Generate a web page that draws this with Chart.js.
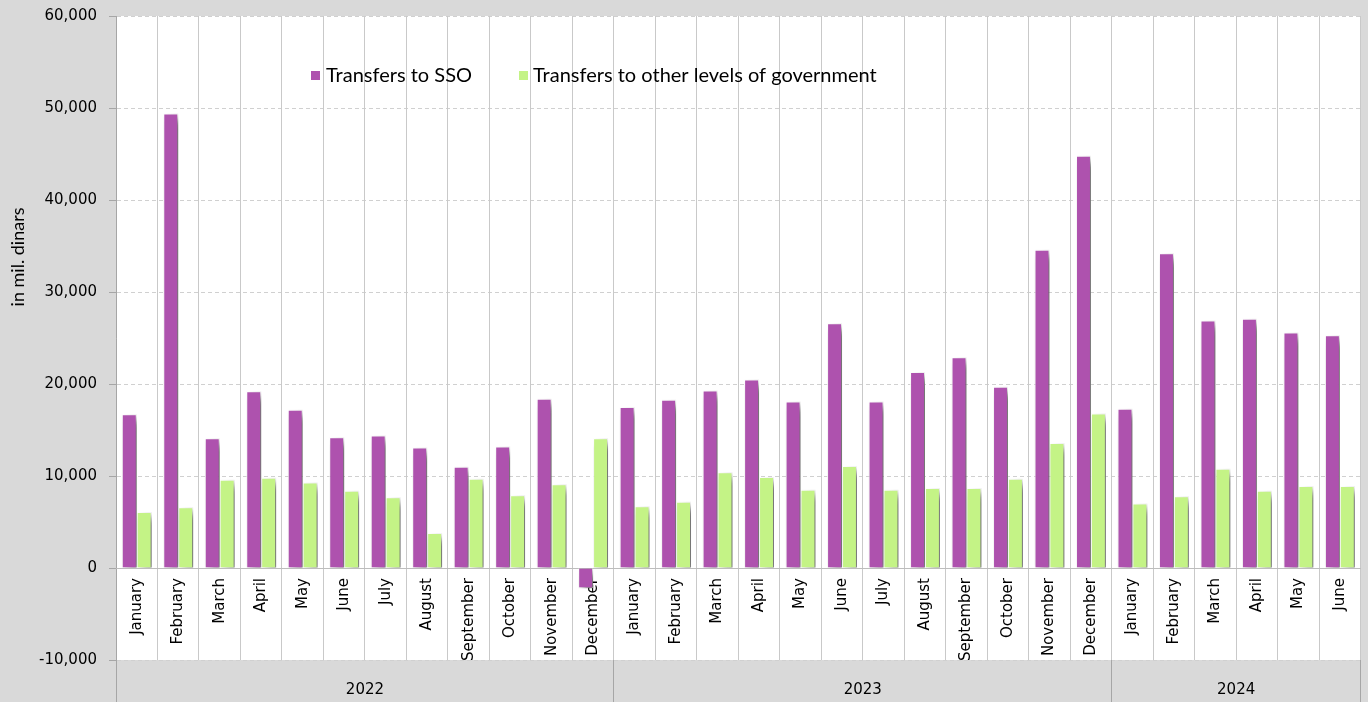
<!DOCTYPE html>
<html>
<head>
<meta charset="utf-8">
<title>Transfers</title>
<script src="https://cdn.jsdelivr.net/npm/chart.js@4.4.1/dist/chart.umd.min.js"></script>
<style>
  html, body { margin: 0; padding: 0; background: #d9d9d9; }
  #wrap { width: 1368px; height: 702px; }
</style>
</head>
<body>
<div id="wrap"><canvas id="chart" width="1368" height="702"></canvas></div>
<script>
// Monthly labels, 2022-01 .. 2024-06
const months = [
  "January", "February", "March", "April", "May", "June",
  "July", "August", "September", "October", "November", "December",
  "January", "February", "March", "April", "May", "June",
  "July", "August", "September", "October", "November", "December",
  "January", "February", "March", "April", "May", "June",
];
const years = ["2022", "2023", "2024"];
const monthsPerYear = [12, 12, 6];

// in mil. dinars
const transfersSSO = [
  16700, 49400, 14100, 19200, 17200, 14200,
  14400, 13100, 11000, 13200, 18400, -2200,
  17500, 18300, 19300, 20500, 18100, 26600,
  18100, 21300, 22900, 19700, 34600, 44800,
  17300, 34200, 26900, 27100, 25600, 25300,
];
const transfersOther = [
  6100, 6600, 9600, 9800, 9300, 8400,
  7700, 3800, 9700, 7900, 9100, 14100,
  6700, 7200, 10400, 9900, 8500, 11100,
  8500, 8700, 8700, 9700, 13600, 16800,
  7000, 7800, 10800, 8400, 8900, 8900,
];

const yMin = -10000;
const yMax = 60000;
const yStep = 10000;

const purple = "#ae52ae";
const green = "#c4f386";

// Year separators and year label positions on the lower axis
const yearEdges = [-0.5];
const yearCenters = [];
let count = 0;
monthsPerYear.forEach((n) => {
  yearCenters.push(count + n / 2 - 0.5);
  count += n;
  yearEdges.push(count - 0.5);
});

const tickFont = { family: "DejaVu Sans", size: 15 };

// White plot area on the grey background.
const plotBackground = {
  id: "plotBackground",
  beforeDraw(chart) {
    const { ctx, chartArea } = chart;
    ctx.save();
    ctx.fillStyle = "#ffffff";
    ctx.fillRect(chartArea.left, chartArea.top, chartArea.right - chartArea.left, chartArea.bottom - chartArea.top);
    ctx.restore();
  },
};

// Soft shadow behind the bars.
const barShadow = {
  id: "barShadow",
  beforeDatasetsDraw(chart) {
    const ctx = chart.ctx;
    ctx.save();
    ctx.shadowColor = "rgba(0, 0, 0, 0.62)";
    ctx.shadowBlur = 8;
    ctx.shadowOffsetX = 6;
    ctx.shadowOffsetY = 5;
  },
  afterDatasetsDraw(chart) {
    chart.ctx.restore();
  },
};

// Legend sits inside the plot, and the axis title, as in the original.
const extras = {
  id: "extras",
  afterDraw(chart) {
    const ctx = chart.ctx;
    const spots = [{ box: 311, text: 326 }, { box: 519, text: 533 }];
    ctx.save();
    ctx.font = "20px Lato";
    ctx.textBaseline = "middle";
    chart.data.datasets.forEach((ds, i) => {
      ctx.fillStyle = ds.backgroundColor;
      ctx.fillRect(spots[i].box, 71, 9, 9);
      ctx.fillStyle = "#000000";
      ctx.fillText(ds.label, spots[i].text, 76);
    });

    ctx.font = "18px Lato";
    ctx.textAlign = "center";
    ctx.translate(18, 257);
    ctx.rotate(-Math.PI / 2);
    ctx.fillText("in mil. dinars", 0, 0);
    ctx.restore();
  },
};

const isYearEdge = (c) => c.tick !== undefined && yearEdges.includes(c.tick.value);

new Chart(document.getElementById("chart"), {
  type: "bar",
  data: {
    labels: months,
    datasets: [
      {
        label: "Transfers to SSO",
        data: transfersSSO,
        backgroundColor: purple,
        borderColor: "#ffffff",
        borderWidth: 1,
      },
      {
        label: "Transfers to other levels of government",
        data: transfersOther,
        backgroundColor: green,
        borderColor: "#ffffff",
        borderWidth: 1,
      },
    ],
  },
  options: {
    responsive: false,
    animation: false,
    layout: { padding: { top: 16, right: 7, left: 0, bottom: 0 } },
    datasets: {
      bar: { categoryPercentage: 0.72, barPercentage: 1.0 },
    },
    plugins: {
      legend: { display: false },
      tooltip: { enabled: false },
    },
    scales: {
      y: {
        min: yMin,
        max: yMax,
        afterFit: (scale) => {
          scale.width = 116;
          scale.paddingTop = 0;
          scale.paddingBottom = 0;
        },
        ticks: {
          stepSize: yStep,
          padding: 12,
          font: tickFont,
          color: "#000000",
          callback: (v) => v.toLocaleString("en-US"),
        },
        grid: { color: "#d0d0d0", tickLength: 7, tickColor: "#a6a6a6" },
        border: { color: "#a6a6a6", dash: [4, 3] },
      },
      x: {
        position: { y: 0 },
        afterFit: (scale) => {
          scale.paddingTop = 0;
          scale.paddingBottom = 0;
        },
        grid: { color: "#c9c9c9", drawTicks: false },
        border: { color: "#bdbdbd" },
        ticks: {
          autoSkip: false,
          minRotation: 90,
          maxRotation: 90,
          padding: 10,
          font: tickFont,
          color: "#000000",
        },
      },
      x2: {
        type: "linear",
        position: "bottom",
        offset: false,
        bounds: "data",
        min: -0.5,
        max: months.length - 0.5,
        afterBuildTicks: (scale) => {
          scale.ticks = [...yearEdges, ...yearCenters]
            .sort((a, b) => a - b)
            .map((v) => ({ value: v }));
        },
        afterFit: (scale) => {
          scale.height = 42;
        },
        grid: {
          offset: false,
          drawOnChartArea: false,
          tickLength: 42,
          tickColor: (c) => (isYearEdge(c) ? "#a6a6a6" : "rgba(0,0,0,0)"),
        },
        border: { display: false },
        ticks: {
          autoSkip: false,
          maxRotation: 0,
          padding: -21,
          font: tickFont,
          color: "#000000",
          callback: (v) => {
            const i = yearCenters.indexOf(v);
            return i >= 0 ? years[i] : "";
          },
        },
      },
    },
  },
  plugins: [plotBackground, barShadow, extras],
});
</script>
</body>
</html>
